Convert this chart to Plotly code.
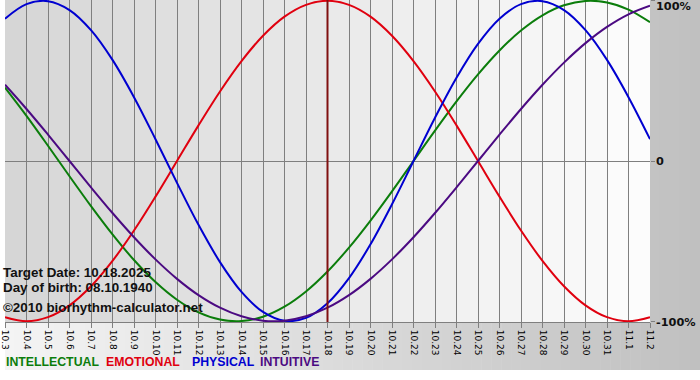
import plotly.graph_objects as go

# ---------------- data ----------------
categories = ["10.3", "10.4", "10.5", "10.6", "10.7", "10.8", "10.9", "10.10", "10.11",
              "10.12", "10.13", "10.14", "10.15", "10.16", "10.17", "10.18", "10.19",
              "10.20", "10.21", "10.22", "10.23", "10.24", "10.25", "10.26", "10.27",
              "10.28", "10.29", "10.30", "10.31", "11.1", "11.2"]

intellectual = [0.4582, 0.2817, 0.0951, -0.0951, -0.2817, -0.4582, -0.6182, -0.7557,
                -0.8660, -0.9450, -0.9898, -0.9989, -0.9718, -0.9096, -0.8146, -0.6901,
                -0.5406, -0.3717, -0.1893, 0.0, 0.1893, 0.3717, 0.5406, 0.6901, 0.8146,
                0.9096, 0.9718, 0.9989, 0.9898, 0.9450, 0.8660]

emotional = [-0.9749, -1.0, -0.9749, -0.9010, -0.7818, -0.6235, -0.4339, -0.2225, 0.0,
             0.2225, 0.4339, 0.6235, 0.7818, 0.9010, 0.9749, 1.0, 0.9749, 0.9010, 0.7818,
             0.6235, 0.4339, 0.2225, 0.0, -0.2225, -0.4339, -0.6235, -0.7818, -0.9010,
             -0.9749, -1.0, -0.9749]

physical = [0.8879, 0.9791, 0.9977, 0.9423, 0.8170, 0.6311, 0.3984, 0.1362, -0.1362,
            -0.3984, -0.6311, -0.8170, -0.9423, -0.9977, -0.9791, -0.8879, -0.7308,
            -0.5196, -0.2698, 0.0, 0.2698, 0.5196, 0.7308, 0.8879, 0.9791, 0.9977,
            0.9423, 0.8170, 0.6311, 0.3984, 0.1362]

intuitive = [0.4759, 0.3247, 0.1646, 0.0, -0.1646, -0.3247, -0.4759, -0.6142, -0.7357,
             -0.8372, -0.9158, -0.9694, -0.9966, -0.9966, -0.9694, -0.9158, -0.8372,
             -0.7357, -0.6142, -0.4759, -0.3247, -0.1646, 0.0, 0.1646, 0.3247, 0.4759,
             0.6142, 0.7357, 0.8372, 0.9158, 0.9694]

series_names = ["INTELLECTUAL", "EMOTIONAL", "PHYSICAL", "INTUITIVE"]
series_values = [intellectual, emotional, physical, intuitive]
series_colors = ["#0b7d0b", "#e0000f", "#0000d0", "#4b0a82"]

y_tick_vals = [1, 0, -1]
y_tick_labels = ["100%", "0", "-100%"]

target_label = "10.18"
info_lines = ["Target Date: 10.18.2025", "Day of birth: 08.10.1940",
              "\u00a92010 biorhythm-calculator.net"]

# ---------------- layout geometry ----------------
FW, FH = 700, 380
L, R, T, B = 0, 50, 0, 58
W = FW - L - R
H = FH - T - B


def px(xp):
    return (xp - L) / W


def py(yp):
    return (T + H - yp) / H


def lerp_gray(a, b, t):
    v = round(a + (b - a) * t)
    return f"rgb({v},{v},{v})"


fig = go.Figure()

for name, vals, col in zip(series_names, series_values, series_colors):
    fig.add_trace(go.Scatter(
        x=categories, y=vals, mode="lines", name=name,
        line=dict(color=col, width=2, shape="spline", smoothing=1.0),
        showlegend=False, hoverinfo="skip"))

shapes = []
# outer gradient background
n_out = 70
for i in range(n_out):
    x0 = i * FW / n_out
    x1 = (i + 1) * FW / n_out + 0.5
    shapes.append(dict(type="rect", xref="paper", yref="paper",
                       x0=px(x0), x1=px(x1), y0=py(370), y1=py(-2),
                       fillcolor=lerp_gray(0xf4, 0xc0, i / (n_out - 1)),
                       line=dict(width=0), layer="below"))
# inner plot gradient, one band per day
n_in = len(categories) - 1
for i in range(n_in):
    shapes.append(dict(type="rect", xref="x", yref="paper",
                       x0=i, x1=i + 1, y0=0, y1=1,
                       fillcolor=lerp_gray(0xd6, 0xfc, i / (n_in - 1)),
                       line=dict(width=0), layer="below"))
# target date line
ti = categories.index(target_label)
shapes.append(dict(type="line", xref="x", yref="paper", x0=ti, x1=ti, y0=0, y1=1,
                   line=dict(color="#801010", width=2), layer="above"))

annotations = []
for k, txt in enumerate(info_lines):
    ypos = [272, 287, 307][k]
    annotations.append(dict(text=txt, xref="paper", yref="paper", x=px(-3), y=py(ypos),
                            xanchor="left", yanchor="middle", showarrow=False, borderpad=0,
                            font=dict(family="Liberation Sans", size=13.4, color="#111111",
                                      weight="bold")))
for v, lab, ypix in zip(y_tick_vals, y_tick_labels, [7, 161, 322]):
    annotations.append(dict(text=lab, xref="paper", yref="paper", x=px(655), y=py(ypix),
                            xanchor="left", yanchor="middle", showarrow=False, borderpad=0,
                            font=dict(family="DejaVu Sans", size=11.3, color="#111111",
                                      weight="bold")))
for name, col, xpix in zip(series_names, series_colors, [0, 101, 187, 256]):
    annotations.append(dict(text=name, xref="paper", yref="paper", x=px(xpix), y=py(362),
                            xanchor="left", yanchor="middle", showarrow=False, borderpad=0,
                            font=dict(family="Liberation Sans", size=12.3, color=col,
                                      weight="bold")))

fig.update_layout(
    width=FW, height=FH,
    margin=dict(l=L, r=R, t=T, b=B, pad=0),
    paper_bgcolor="white",
    plot_bgcolor="rgba(0,0,0,0)",
    shapes=shapes,
    annotations=annotations,
    xaxis=dict(type="category", range=[0, len(categories) - 1],
               showgrid=True, gridcolor="#7f7f7f", gridwidth=1,
               showline=True, linecolor="#7f7f7f", linewidth=1,
               ticks="outside", ticklen=5, tickcolor="#7f7f7f", tickwidth=1,
               tickangle=90, tickfont=dict(family="DejaVu Sans", size=9, color="#000000"),
               zeroline=False, fixedrange=True),
    yaxis=dict(range=[-1.005, 1.005], side="right", showgrid=False,
               zeroline=True, zerolinecolor="#7f7f7f", zerolinewidth=1,
               tickvals=y_tick_vals, ticks="outside", ticklen=4, tickcolor="#7f7f7f",
               showticklabels=False, showline=False, fixedrange=True),
)

fig.write_html("out.html", config={"displayModeBar": False},
               post_script="document.body.style.margin='0';")
